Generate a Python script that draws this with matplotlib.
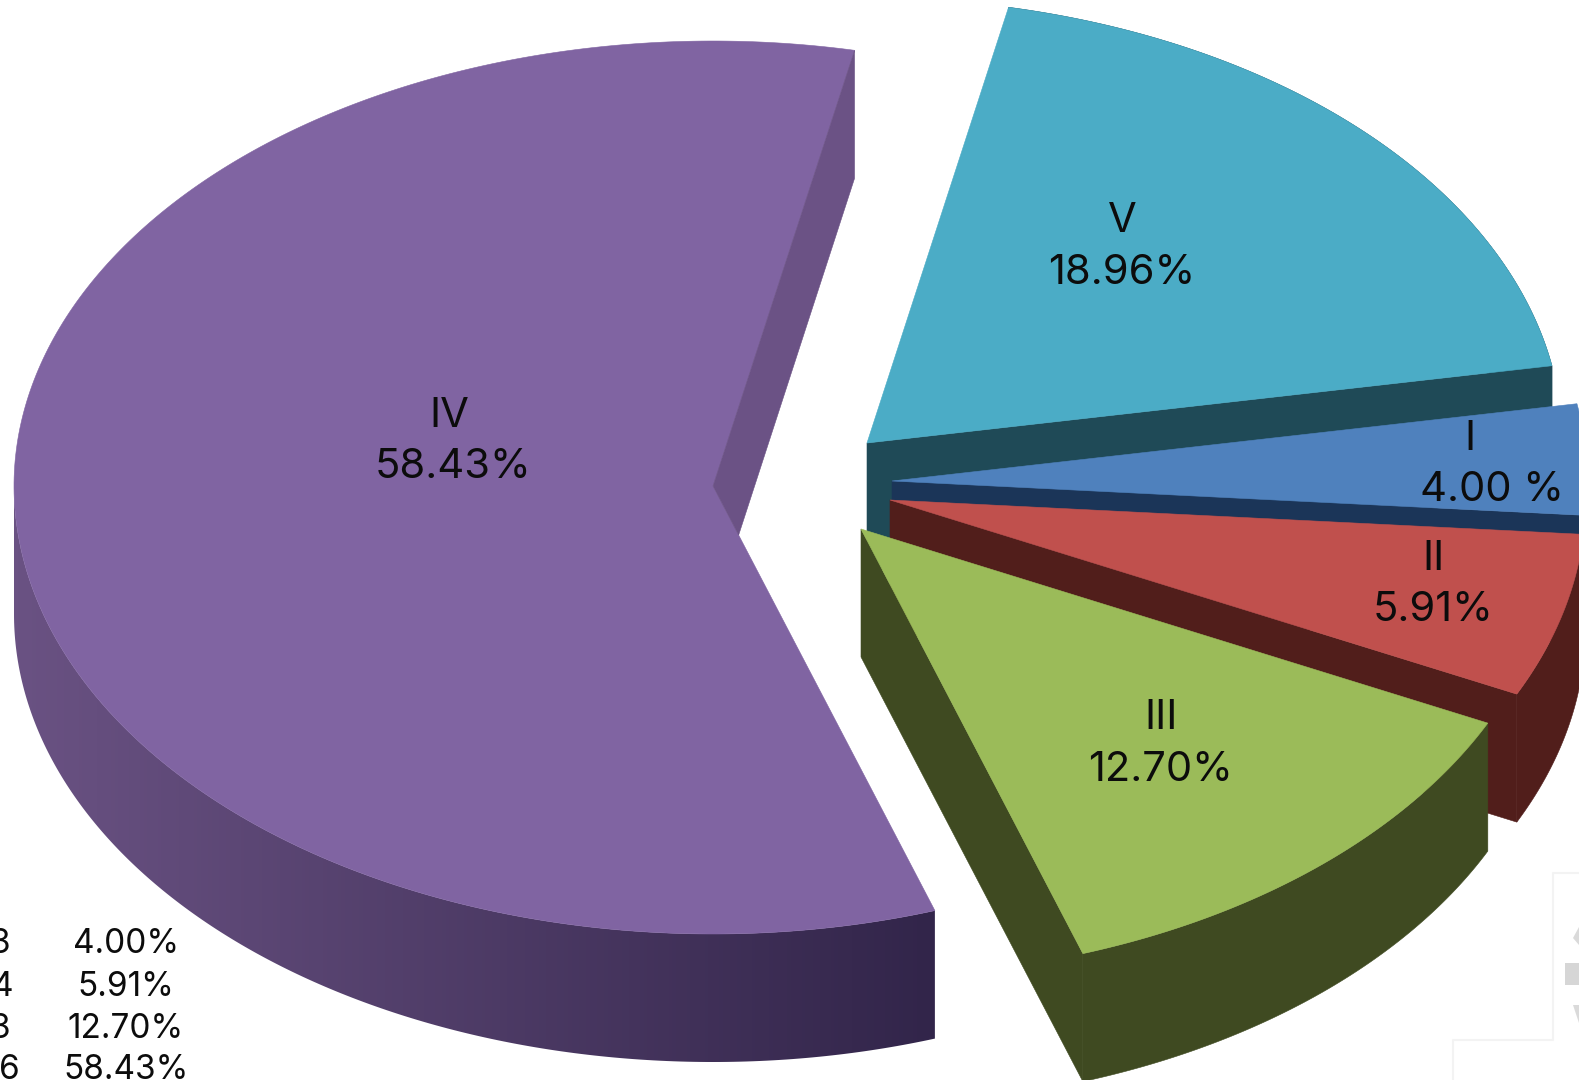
import numpy as np
import matplotlib
matplotlib.use("Agg")
import matplotlib.pyplot as plt
from matplotlib.patches import Polygon, Rectangle
from matplotlib.colors import LinearSegmentedColormap

# ---- data ----
categories = ["I", "II", "III", "IV", "V"]
shares = [4.00, 5.91, 12.70, 58.43, 18.96]
share_labels = ["4.00 %", "5.91%", "12.70%", "58.43%", "18.96%"]
table_values = ["4.00%", "5.91%", "12.70%", "58.43%"]
table_fragments = ["3", "4", "3", "6"]

# ---- styles / layout (reference pixels) ----
top_colors = ["#4F81BD", "#C0504D", "#9BBB59", "#8064A2", "#4BACC6"]
wall_colors = ["#1B3558", "#511E1B", "#3F4A21", "#6B5285", "#1F4A57"]
apex = {"I": (892, 481), "II": (890, 500), "III": (861, 529), "IV": (713, 486), "V": (867, 443)}
RX_LEFT, RX_RIGHT, RY_UP, RY_DOWN, DEPTH = 699, 695.5, 445, 448, 128
START_I = 10.0   # upper edge of slice I, degrees
label_pos = {"I": ((1470, 439), (1492, 490)), "II": ((1433, 559), (1433, 610)),
             "III": ((1161, 718), (1161, 770)), "IV": ((449, 416), (453, 467)),
             "V": ((1122, 221), (1122, 273))}
FONT = "Inter"
TEXT = "#0C0C0C"

fig = plt.figure(figsize=(15.79, 10.80), dpi=100, facecolor="white")
ax = fig.add_axes([0, 0, 1, 1])

# slice angle ranges, clockwise from START_I
ang = {}
cur = START_I
for c, s in zip(categories, shares):
    ang[c] = (cur, cur - s * 3.6)
    cur -= s * 3.6


def pt(c, deg):
    x0, y0 = apex[c]
    t = np.radians(deg)
    cs, sn = np.cos(t), np.sin(t)
    return x0 + (RX_RIGHT if cs > 0 else RX_LEFT) * cs, y0 - (RY_UP if sn > 0 else RY_DOWN) * sn


def arc(c, a, b, n=120):
    return np.array([pt(c, d) for d in np.linspace(a, b, n)])


def fill(points, color, z):
    ax.add_patch(Polygon(points, closed=True, facecolor=color, edgecolor=color,
                         linewidth=0.4, zorder=z))


def draw_slice(c, color_top, color_wall, z):
    a, b = ang[c]
    x0, y0 = apex[c]
    # radial wall of the trailing edge
    ex, ey = pt(c, b)
    fill([(x0, y0), (ex, ey), (ex, ey + DEPTH), (x0, y0 + DEPTH)], color_wall, z)
    # outer wall for the front part of the rim
    lo, hi = b, min(a, 0)
    if lo < hi:
        rim = arc(c, hi, lo)
        fill(np.vstack([rim, (rim + [0, DEPTH])[::-1]]), color_wall, z)
    # top face
    fill(np.vstack([[(x0, y0)], arc(c, a, b)]), color_top, z + 0.5)


# slice IV: lies to the left, its rim gets a gradient
c = "IV"
a4, b4 = ang[c]
x4, y4 = apex[c]
lead, trail = b4 + 360, a4 + 360      # top radial edge, lower radial edge
rim4 = arc(c, 180, trail, 200)
wall4 = Polygon(np.vstack([rim4, (rim4 + [0, DEPTH])[::-1]]), closed=True, transform=ax.transData,
                facecolor="none", edgecolor="none")
ax.add_patch(wall4)
grad = LinearSegmentedColormap.from_list("wall", ["#6A5283", "#32254A"])
img = ax.imshow(np.linspace(0, 1, 256)[None, :], cmap=grad, aspect="auto", zorder=1,
                extent=(rim4[:, 0].min(), rim4[:, 0].max(), rim4[:, 1].max() + DEPTH, rim4[:, 1].min()))
img.set_clip_path(wall4)
fill(np.vstack([[(x4, y4)], arc(c, lead, trail, 300)]), top_colors[3], 1.5)
# inner wall of the top radial edge; its lower corner meets the lower radial edge
ex, ey = pt(c, lead)
tx, ty = pt(c, trail)
u = np.array([tx - x4, ty - y4])
v = np.array([ex - x4, ey - y4])
s = np.linalg.solve(np.array([u, -v]).T, np.array([0.0, DEPTH]))[0]
meet = (x4 + u[0] * s, y4 + u[1] * s)
fill([(x4, y4), (ex, ey), (ex, ey + DEPTH), meet], wall_colors[3], 2)

# right-hand slices, back to front
for z, (i, c) in enumerate([(4, "V"), (0, "I"), (1, "II"), (2, "III")]):
    draw_slice(c, top_colors[i], wall_colors[i], 3 + z)

# labels
for c, lab in zip(categories, share_labels):
    p1, p2 = label_pos[c]
    ax.text(*p1, c, fontsize=30, family=FONT, color=TEXT, ha="center", va="center", zorder=20)
    ax.text(*p2, lab, fontsize=30, family=FONT, color=TEXT, ha="center", va="center", zorder=20)

# cropped table, bottom-left
rows_y = [944, 987, 1029, 1070]
for y, t in zip(rows_y, table_values):
    ax.text(126, y, t, fontsize=24, family=FONT, color=TEXT, ha="center", va="center")
for y, t, xr in zip(rows_y, table_fragments, [10, 13, 10, 20]):
    ax.text(xr, y, t, fontsize=24, family=FONT, color=TEXT, ha="right", va="center")

# faint screenshot remains, bottom-right
faint = "#F3F3F3"
ax.plot([1579, 1553, 1553, 1453, 1453], [873, 873, 1040, 1040, 1080], color=faint, lw=1.5, zorder=0)
ax.add_patch(Rectangle((1565, 963), 14, 22, facecolor="#D6D6D6", edgecolor="none"))
ax.add_patch(Polygon([(1579, 927), (1573, 938), (1579, 945)], facecolor="#DADADA", edgecolor="none"))
ax.add_patch(Polygon([(1573, 1005), (1579, 1005), (1579, 1023)], facecolor="#DADADA", edgecolor="none"))

ax.set_xlim(0, 1579)
ax.set_ylim(1080, 0)
ax.axis("off")
fig.savefig("out.png", dpi=100, facecolor="white")
